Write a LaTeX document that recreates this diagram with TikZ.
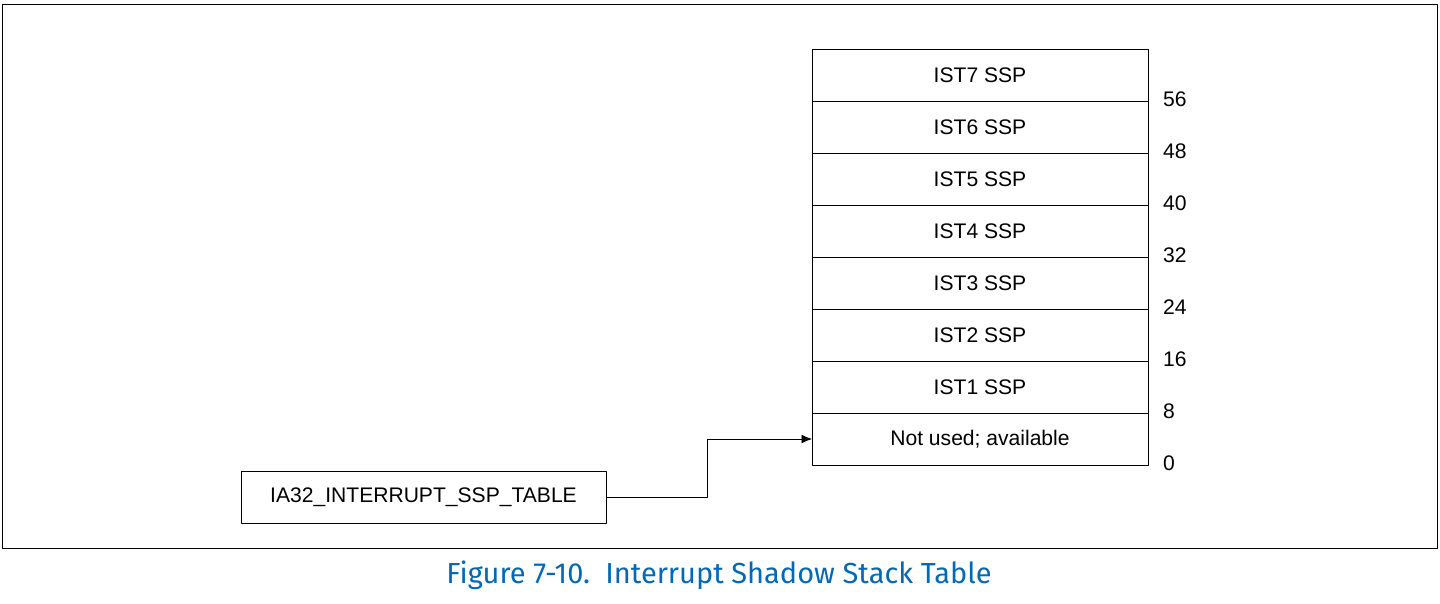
\documentclass[tikz,border=0pt]{standalone}
\usepackage{fontspec}
\setmainfont{Liberation Sans}
\newfontfamily\capfont{Fira Sans}
\usetikzlibrary{arrows.meta,positioning}
\definecolor{capblue}{RGB}{0,104,181}
\tikzset{
  slot/.style={draw, minimum width=6.72cm, minimum height=1.04cm, inner sep=0pt, outer sep=0pt, font=\fontsize{12}{14}\selectfont},
  offs/.style={anchor=west, font=\fontsize{12}{14}\selectfont}
}
\begin{document}
\begin{tikzpicture}[x=0.02cm, y=-0.02cm, line join = round]
                  \useasboundingbox (0,0) rectangle (1440,604);
                  \draw (2,4) rectangle (1437,548);

                  % table rows, bottom row first
                  \node[slot] (r0) at (980,439) {Not used; available};
                  \foreach \i [remember=\i as \j (initially 0)] in {1,...,7}{
                    \node[slot, above=0pt of r\j] (r\i) {IST\i\ SSP};
                  }
                  \foreach \i [evaluate=\i as \o using int(8*\i)] in {0,...,7}{
                    \node[offs] at ([xshift=0.18cm, yshift=0.04cm]r\i.south east) {\o};
                  }

                  \node[draw, minimum width=7.3cm, minimum height=1.04cm, font=\fontsize{12}{14}\selectfont] (msr) at (423.5,497) {IA32\_INTERRUPT\_SSP\_TABLE};
                  \coordinate (bend) at (707,497);
                  \draw[-{Latex[length=6pt,width=5pt]}] (msr.east) -- (bend) |- (r0.west);

                  \node[font=\capfont\fontsize{16.5}{19}\selectfont, text=capblue] (cap) at (719,575) {Figure 7-10.\ \ Interrupt Shadow Stack Table};
\end{tikzpicture}
\end{document}
